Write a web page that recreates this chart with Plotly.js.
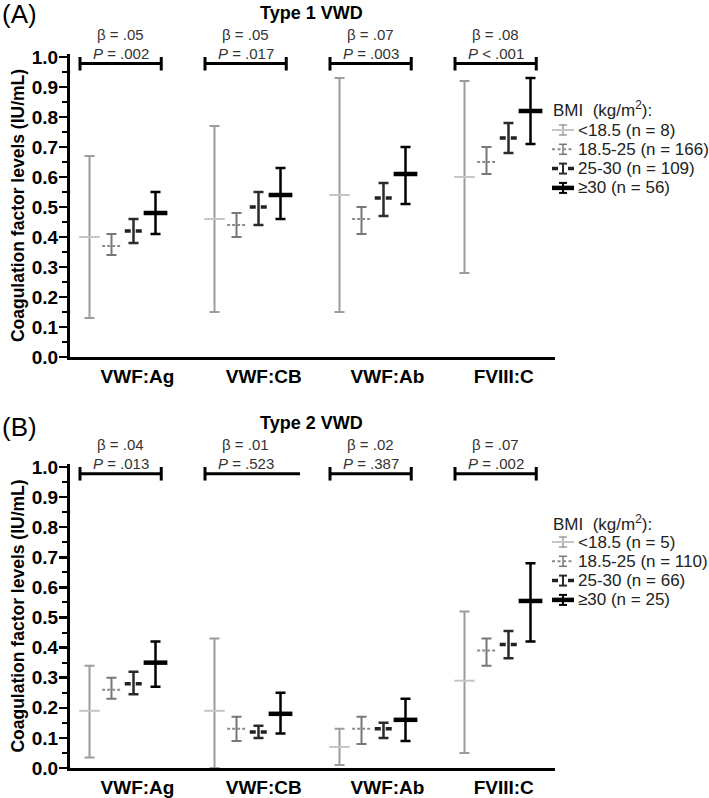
<!DOCTYPE html>
<html><head><meta charset="utf-8">
<script src="https://cdn.plot.ly/plotly-3.0.1.min.js"></script>
<style>body{margin:0;background:#fff}#chart{width:709px;height:798px}</style>
</head><body><div id="chart"></div><script>
// ---------- DATA ----------
const categories = ['VWF:Ag', 'VWF:CB', 'VWF:Ab', 'FVIII:C'];
const bmiLabels = ['<18.5', '18.5-25', '25-30', '≥30'];
const type1N = [8, 166, 109, 56];
const type2N = [5, 110, 66, 25];

// Type 1 VWD: rows = BMI groups, columns = categories
const type1Mean = [
  [0.40, 0.46, 0.54, 0.60],
  [0.37, 0.44, 0.46, 0.65],
  [0.42, 0.50, 0.53, 0.73],
  [0.48, 0.54, 0.61, 0.82]
];
const type1Low = [
  [0.13, 0.15, 0.15, 0.28],
  [0.34, 0.40, 0.41, 0.61],
  [0.38, 0.44, 0.47, 0.68],
  [0.41, 0.46, 0.51, 0.71]
];
const type1High = [
  [0.67, 0.77, 0.93, 0.92],
  [0.41, 0.48, 0.50, 0.70],
  [0.46, 0.55, 0.58, 0.78],
  [0.55, 0.63, 0.70, 0.93]
];
// Type 2 VWD
const type2Mean = [
  [0.19, 0.19, 0.07, 0.29],
  [0.26, 0.13, 0.13, 0.39],
  [0.28, 0.12, 0.13, 0.41],
  [0.35, 0.18, 0.16, 0.555]
];
const type2Low = [
  [0.035, 0.0, 0.01, 0.05],
  [0.23, 0.09, 0.08, 0.34],
  [0.245, 0.10, 0.10, 0.365],
  [0.27, 0.115, 0.09, 0.42]
];
const type2High = [
  [0.34, 0.43, 0.13, 0.52],
  [0.30, 0.17, 0.17, 0.43],
  [0.32, 0.14, 0.15, 0.455],
  [0.42, 0.25, 0.23, 0.68]
];
const type1Beta = ['.05', '.05', '.07', '.08'];
const type1P = ['= .002', '= .017', '= .003', '< .001'];
const type2Beta = ['.04', '.01', '.02', '.07'];
const type2P = ['= .013', '= .523', '= .387', '= .002'];

// ---------- STYLE ----------
const FONT = '"Liberation Sans", Arial, Helvetica, sans-serif';
const W = 709, H = 798, ML = 70, MR = 154, PW = W - ML - MR;
const px2x = px => (px - ML) / PW;
const px2y = py => (H - py) / H;

const groupOffset = [-0.264, -0.088, 0.088, 0.264];
const meanHalfWidth = [0.082, 0.075, 0.07, 0.095];
const whiskerColor = ['#9c9c9c', '#777777', '#2b2b2b', '#000000'];
const meanColor = ['#c6c6c6', '#8c8c8c', '#222222', '#000000'];
const meanWidth = [2, 2, 3.5, 4.5];
const meanDash = ['solid', '3px,2px', '6px,5px', 'solid'];
const legendDash = ['solid', '3px,2.5px', '6px,10px', 'solid'];
const whiskerWidth = [2, 2, 2.5, 2.5];
const labelShift = [0.12, 0.13, 0.12, 0.05];
const bracketLeft = -0.34, bracketRight = 0.31, bracketOpenRight = 0.42;
const bracketY = 0.978, capTop = 1.0, capBottom = 0.955;

const traces = [];
const shapes = [];
function panel(xa, ya, mean, low, high, nArr, beta, pv, capRight, legTitleY, legFirstY) {
  for (let g = 0; g < 4; g++) {
    traces.push({
      type: 'scatter', mode: 'markers', xaxis: xa, yaxis: ya, showlegend: false,
      name: bmiLabels[g],
      x: categories.map((c, i) => i + groupOffset[g]),
      y: mean[g],
      marker: {color: 'rgba(0,0,0,0)', size: 1},
      error_y: {type: 'data', symmetric: false,
        array: mean[g].map((m, i) => high[g][i] - m),
        arrayminus: mean[g].map((m, i) => m - low[g][i]),
        color: whiskerColor[g], thickness: whiskerWidth[g], width: 5},
      hoverinfo: 'skip', cliponaxis: false
    });
  }
  for (let g = 0; g < 4; g++) {
    const xs = [], ys = [];
    categories.forEach((c, i) => {
      const xc = i + groupOffset[g];
      xs.push(xc - meanHalfWidth[g], xc + meanHalfWidth[g], null);
      ys.push(mean[g][i], mean[g][i], null);
    });
    traces.push({type: 'scatter', mode: 'lines', xaxis: xa, yaxis: ya, showlegend: false,
      name: bmiLabels[g] + ' mean',
      x: xs, y: ys, line: {color: meanColor[g], width: meanWidth[g], dash: meanDash[g]},
      hoverinfo: 'skip', cliponaxis: false});
  }
  // brackets
  const bx = [], by = [];
  categories.forEach((c, i) => {
    const x0 = i + bracketLeft;
    const x1 = i + (capRight[i] ? bracketRight : bracketOpenRight);
    bx.push(x0, x0, null, x0, x1, null);
    by.push(capTop, capBottom, null, bracketY, bracketY, null);
    if (capRight[i]) { bx.push(x1, x1, null); by.push(capTop, capBottom, null); }
  });
  traces.push({type: 'scatter', mode: 'lines', xaxis: xa, yaxis: ya, showlegend: false,
    x: bx, y: by, line: {color: '#000', width: 3}, hoverinfo: 'skip', cliponaxis: false});
  const ann = [];
  categories.forEach((c, i) => {
    const xc = i + (bracketLeft + bracketRight) / 2;
    ann.push({xref: xa, yref: ya, x: xc, y: bracketY, yanchor: 'middle', xanchor: 'center',
      showarrow: false, yshift: 10, text: '<i>P</i> ' + pv[i],
      font: {family: FONT, size: 15, color: '#333'}});
    ann.push({xref: xa, yref: ya, x: xc, y: bracketY, yanchor: 'middle', xanchor: 'center',
      showarrow: false, yshift: 29, text: 'β = ' + beta[i],
      font: {family: FONT, size: 15, color: '#333'}});
  });
  // manual legend (title + icons + labels), positioned in paper space
  ann.push({xref: 'paper', yref: 'paper', x: px2x(551), y: px2y(legTitleY), xanchor: 'left', yanchor: 'middle',
    showarrow: false, text: 'BMI  (kg/m<sup>2</sup>):', font: {family: FONT, size: 17, color: '#222'}});
  for (let g = 0; g < 4; g++) {
    const cy = legFirstY + g * 19.3;
    const xl = 552, xr = 574, xm = 563;
    shapes.push({type: 'line', xref: 'paper', yref: 'paper', x0: px2x(xm), x1: px2x(xm), y0: px2y(cy - 5), y1: px2y(cy + 5),
      line: {color: whiskerColor[g], width: whiskerWidth[g] - 0.5}});
    [cy - 5, cy + 5].forEach(yy => shapes.push({type: 'line', xref: 'paper', yref: 'paper',
      x0: px2x(xm - 4), x1: px2x(xm + 4), y0: px2y(yy), y1: px2y(yy),
      line: {color: whiskerColor[g], width: whiskerWidth[g] - 0.5}}));
    shapes.push({type: 'line', xref: 'paper', yref: 'paper', x0: px2x(xl), x1: px2x(xr), y0: px2y(cy), y1: px2y(cy),
      line: {color: meanColor[g], width: meanWidth[g], dash: legendDash[g]}});
    ann.push({xref: 'paper', yref: 'paper', x: px2x(576), y: px2y(cy), xanchor: 'left', yanchor: 'middle',
      showarrow: false, text: bmiLabels[g].replace('<', '&lt;') + ' (n = ' + nArr[g] + ')',
      font: {family: FONT, size: 17, color: '#222'}});
  }
  return ann;
}

const annA = panel('x', 'y', type1Mean, type1Low, type1High, type1N, type1Beta, type1P, [true, true, true, true], 109, 130);
const annB = panel('x2', 'y2', type2Mean, type2Low, type2High, type2N, type2Beta, type2P, [true, false, true, true], 523, 542);

function yAxis(domain, anchor) {
  return {
    domain: domain, anchor: anchor, range: [0, 1.01], fixedrange: true,
    showgrid: false, zeroline: false, showline: true, linecolor: '#000', linewidth: 3,
    ticks: 'outside', ticklen: 8, tickwidth: 2.5, tickcolor: '#000', dtick: 0.1, tick0: 0,
    ticklabelstandoff: -3,
    tickformat: '.1f', tickfont: {family: FONT, size: 19, color: '#000', weight: 'bold'},
    minor: {dtick: 0.05, ticks: 'outside', ticklen: 5, tickwidth: 2, tickcolor: '#000'},
    title: {text: '<b>Coagulation factor levels (IU/mL)</b>', font: {family: FONT, size: 17.5, color: '#000'}, standoff: 3}
  };
}
function xAxis(anchor) {
  return {
    anchor: anchor, domain: [0, 1], range: [-0.42, 3.46], fixedrange: true,
    showgrid: false, zeroline: false, showline: true, linecolor: '#000', linewidth: 3,
    ticks: '', tickmode: 'array',
    tickvals: categories.map((c, i) => i + labelShift[i]),
    ticktext: categories.map(c => '<b>' + c + '</b>'),
    tickfont: {family: FONT, size: 19, color: '#000'}
  };
}

const layout = {
  width: W, height: H, paper_bgcolor: '#fff', plot_bgcolor: '#fff',
  margin: {l: ML, r: MR, t: 0, b: 0}, showlegend: false,
  font: {family: FONT},
  xaxis: xAxis('y'), yaxis: yAxis([px2y(357), px2y(54)], 'x'),
  xaxis2: xAxis('y2'), yaxis2: yAxis([px2y(768), px2y(464)], 'x2'),
  shapes: shapes,
  annotations: annA.concat(annB).concat([
    {xref: 'paper', yref: 'paper', x: px2x(311), y: px2y(13), xanchor: 'center', yanchor: 'middle', showarrow: false,
     text: '<b>Type 1 VWD</b>', font: {family: FONT, size: 18, color: '#000'}},
    {xref: 'paper', yref: 'paper', x: px2x(311), y: px2y(423), xanchor: 'center', yanchor: 'middle', showarrow: false,
     text: '<b>Type 2 VWD</b>', font: {family: FONT, size: 18, color: '#000'}},
    {xref: 'paper', yref: 'paper', x: px2x(0), y: px2y(14), xanchor: 'left', yanchor: 'middle', showarrow: false,
     text: '(A)', font: {family: FONT, size: 26, color: '#000'}},
    {xref: 'paper', yref: 'paper', x: px2x(0), y: px2y(427), xanchor: 'left', yanchor: 'middle', showarrow: false,
     text: '(B)', font: {family: FONT, size: 26, color: '#000'}}
  ])
};

Plotly.newPlot('chart', traces, layout, {displayModeBar: false, staticPlot: true});
</script></body></html>
